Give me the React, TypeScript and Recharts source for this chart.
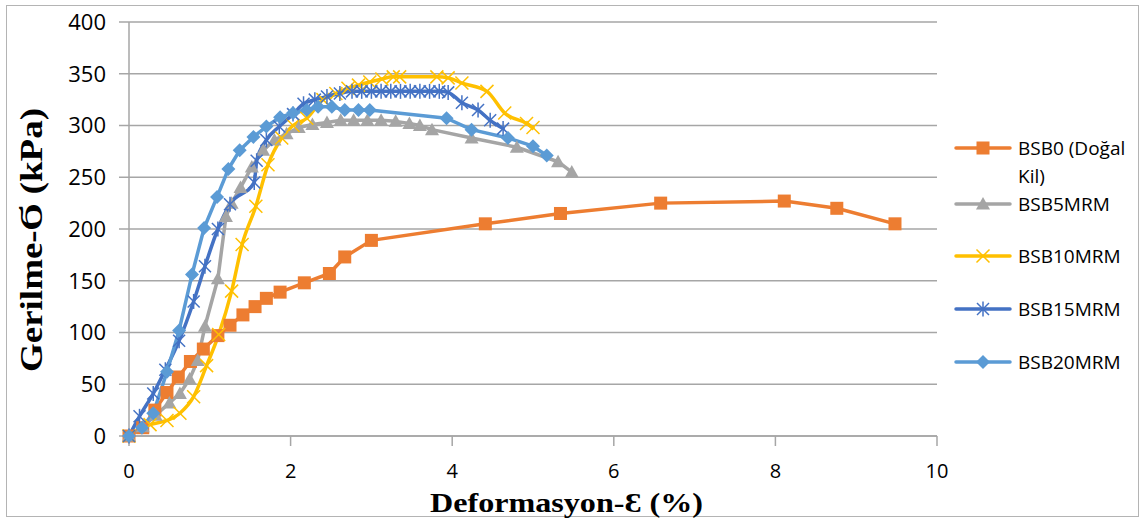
import React from "react";
import { LineChart, Line, XAxis, YAxis, CartesianGrid, Legend } from "recharts";

// x = deformasyon (%), y = gerilme (kPa)
const xTicks = [0, 2, 4, 6, 8, 10];
const yTicks = [0, 50, 100, 150, 200, 250, 300, 350, 400];

const bsb0X = [0, 0.17, 0.32, 0.47, 0.61, 0.76, 0.92, 1.1, 1.25, 1.41, 1.56, 1.7, 1.87, 2.17, 2.48, 2.67, 3.0, 4.41, 5.34, 6.58, 8.11, 8.76, 9.48];
const bsb0Y = [0, 8, 25, 42, 57, 72, 84, 97, 107, 117, 125, 133, 139, 148, 157, 173, 189, 205, 215, 225, 227, 220, 205];

const bsb5X = [0, 0.17, 0.33, 0.5, 0.63, 0.75, 0.85, 0.94, 1.1, 1.2, 1.27, 1.38, 1.52, 1.66, 1.8, 1.95, 2.1, 2.27, 2.45, 2.62, 2.78, 2.95, 3.12, 3.3, 3.47, 3.6, 3.75, 4.24, 4.8, 5.31, 5.48];
const bsb5Y = [0, 9, 20, 32, 41, 55, 73, 106, 152, 212, 225, 240, 260, 276, 286, 292, 298, 301, 303, 305, 305, 305, 305, 304, 302, 300, 296, 288, 279, 265, 255];

const bsb10X = [0, 0.26, 0.47, 0.63, 0.8, 0.96, 1.11, 1.27, 1.4, 1.57, 1.72, 1.89, 2.03, 2.2, 2.4, 2.56, 2.71, 2.84, 2.98, 3.13, 3.27, 3.35, 3.81, 3.95, 4.12, 4.43, 4.65, 4.92, 5.0];
const bsb10Y = [0, 11, 15, 22, 38, 68, 98, 140, 185, 222, 262, 288, 300, 307, 325, 331, 336, 339, 342, 345, 347, 347, 347, 346, 341, 333, 312, 302, 298];

const bsb15X = [0, 0.13, 0.3, 0.45, 0.62, 0.8, 0.94, 1.1, 1.25, 1.55, 1.58, 1.7, 1.86, 2.03, 2.16, 2.3, 2.45, 2.61, 2.76, 2.88, 3.0, 3.12, 3.24, 3.36, 3.48, 3.6, 3.72, 3.84, 3.95, 4.12, 4.32, 4.47, 4.63];
const bsb15Y = [0, 19, 41, 64, 92, 130, 164, 200, 224, 245, 266, 286, 299, 311, 321, 325, 328, 331, 333, 333, 333, 333, 333, 333, 333, 333, 333, 333, 332, 322, 315, 305, 297];

const bsb20X = [0, 0.16, 0.3, 0.47, 0.62, 0.78, 0.93, 1.09, 1.23, 1.37, 1.54, 1.7, 1.87, 2.03, 2.2, 2.34, 2.51, 2.67, 2.84, 2.98, 3.93, 4.24, 4.69, 5.0, 5.17];
const bsb20Y = [0, 8, 22, 62, 102, 156, 201, 231, 258, 276, 289, 299, 308, 312, 315, 318, 318, 315, 315, 315, 307, 296, 288, 280, 271];

const toPoints = (xs: number[], ys: number[]) => xs.map((x, i) => ({ x, y: ys[i] }));

type MarkerKind = "square" | "triangle" | "cross" | "star" | "diamond";

const series = [
  { name: "BSB0 (Doğal Kil)", color: "#ED7D31", marker: "square" as MarkerKind, curve: "linear", data: toPoints(bsb0X, bsb0Y) },
  { name: "BSB5MRM", color: "#A5A5A5", marker: "triangle" as MarkerKind, curve: "linear", data: toPoints(bsb5X, bsb5Y) },
  { name: "BSB10MRM", color: "#FFC000", marker: "cross" as MarkerKind, curve: "monotone", data: toPoints(bsb10X, bsb10Y) },
  { name: "BSB15MRM", color: "#4472C4", marker: "star" as MarkerKind, curve: "monotone", data: toPoints(bsb15X, bsb15Y) },
  { name: "BSB20MRM", color: "#5B9BD5", marker: "diamond" as MarkerKind, curve: "linear", data: toPoints(bsb20X, bsb20Y) },
];

const gridColor = "#a6a6a6";
const tickFont = "'Open Sans', sans-serif";

function Marker({ kind, color, cx, cy }: { kind: MarkerKind; color: string; cx: number; cy: number }) {
  switch (kind) {
    case "square":
      return <rect x={cx - 6.5} y={cy - 6.5} width={13} height={13} fill={color} />;
    case "triangle":
      return <polygon points={`${cx},${cy - 7} ${cx + 7},${cy + 5.5} ${cx - 7},${cy + 5.5}`} fill={color} />;
    case "cross":
      return (
        <g stroke={color} strokeWidth={1.5}>
          <line x1={cx - 6.5} y1={cy - 6.5} x2={cx + 6.5} y2={cy + 6.5} />
          <line x1={cx - 6.5} y1={cy + 6.5} x2={cx + 6.5} y2={cy - 6.5} />
        </g>
      );
    case "star":
      return (
        <g stroke={color} strokeWidth={1.5}>
          <line x1={cx - 6} y1={cy - 6} x2={cx + 6} y2={cy + 6} />
          <line x1={cx - 6} y1={cy + 6} x2={cx + 6} y2={cy - 6} />
          <line x1={cx} y1={cy - 7.5} x2={cx} y2={cy + 7.5} />
        </g>
      );
    default:
      return <polygon points={`${cx},${cy - 7} ${cx + 7},${cy} ${cx},${cy + 7} ${cx - 7},${cy}`} fill={color} />;
  }
}

const makeDot = (kind: MarkerKind, color: string) => (p: any) => {
  if (p.cx == null || p.cy == null) return <g key={`e-${p.index}`} />;
  return (
    <g key={`d-${kind}-${p.index}`}>
      <Marker kind={kind} color={color} cx={p.cx} cy={p.cy} />
    </g>
  );
};

// centre line of each legend row (page pixels)
const legendRows = [148, 204, 256, 309, 362];

function LegendBox() {
  const top0 = 130;
  return (
    <div style={{ position: "relative", width: 190, height: 250 }}>
      {series.map((s, i) => (
        <div
          key={s.name}
          style={{ position: "absolute", left: 0, top: legendRows[i] - top0 - 14, display: "flex", alignItems: "flex-start" }}
        >
          <svg width={62} height={28} style={{ flex: "none" }}>
            <line x1={4} y1={14} x2={58} y2={14} stroke={s.color} strokeWidth={3.5} strokeLinecap="round" />
            <Marker kind={s.marker} color={s.color} cx={31} cy={14} />
          </svg>
          <div
            style={{
              width: 116,
              marginLeft: 4,
              fontFamily: tickFont,
              fontSize: 19,
              lineHeight: "28px",
              color: "#000",
              whiteSpace: "normal",
            }}
          >
            {s.name}
          </div>
        </div>
      ))}
    </div>
  );
}

const renderXTitle = () => (
  <text
    x={430}
    y={512}
    fontFamily="'Liberation Serif', 'Times New Roman', serif"
    fontWeight="bold"
    fontSize={28}
    fill="#000"
    textLength={273}
    lengthAdjust="spacingAndGlyphs"
  >
    Deformasyon-Ɛ (%)
  </text>
);

const renderYTitle = () => (
  <text
    x={0}
    y={0}
    transform="translate(42,372) rotate(-90)"
    fontFamily="'Liberation Serif', 'Times New Roman', serif"
    fontWeight="bold"
    fontSize={32}
    fill="#000"
    textLength={264}
    lengthAdjust="spacingAndGlyphs"
  >
    Gerilme-Ϭ (kPa)
  </text>
);

export default function App() {
  return (
    <div style={{ position: "absolute", left: 0, top: 0, width: 1144, height: 520, background: "#fff" }}>
      <div
        style={{
          position: "absolute",
          left: 6,
          top: 5,
          width: 1133,
          height: 512,
          border: "1px solid #b4b4b4",
          boxSizing: "border-box",
        }}
      />
      <LineChart width={1144} height={520} margin={{ top: 22, right: 207, bottom: 54, left: 69 }}>
        <CartesianGrid vertical={false} stroke={gridColor} strokeWidth={1.5} />
        <XAxis
          dataKey="x"
          type="number"
          domain={[0, 10]}
          ticks={xTicks}
          height={30}
          tickSize={10}
          tickMargin={18}
          stroke={gridColor}
          strokeWidth={1.5}
          tick={{ fill: "#000", fontSize: 20, fontFamily: tickFont }}
          label={{ content: renderXTitle }}
        />
        <YAxis
          type="number"
          domain={[0, 400]}
          ticks={yTicks}
          width={60}
          tickSize={10}
          tickMargin={13}
          stroke={gridColor}
          strokeWidth={1.5}
          tick={{ fill: "#000", fontSize: 22, fontFamily: tickFont }}
          label={{ content: renderYTitle }}
        />
        <Legend
          layout="vertical"
          align="center"
          verticalAlign="middle"
          wrapperStyle={{ left: 952, top: 130, width: 190, height: 250 }}
          content={() => <LegendBox />}
        />
        {series.map((s) => (
          <Line
            key={s.name}
            name={s.name}
            data={s.data}
            dataKey="y"
            type={s.curve as any}
            stroke={s.color}
            strokeWidth={3.5}
            strokeLinecap="round"
            strokeLinejoin="round"
            dot={makeDot(s.marker, s.color)}
            activeDot={false}
            isAnimationActive={false}
          />
        ))}
      </LineChart>
    </div>
  );
}
